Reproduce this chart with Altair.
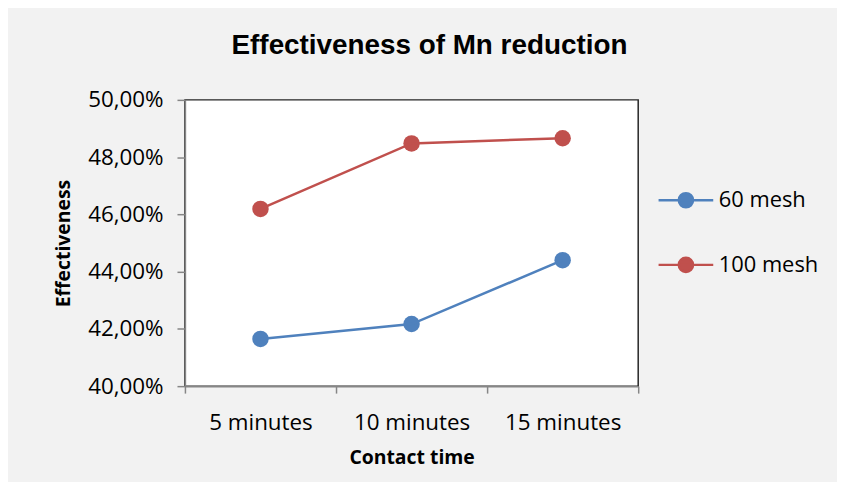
import altair as alt
import pandas as pd

categories = ["5 minutes", "10 minutes", "15 minutes"]
series_names = ["60 mesh", "100 mesh"]
mesh60 = [0.4165, 0.4217, 0.4440]
mesh100 = [0.4619, 0.4848, 0.4866]
y_ticks = [0.40, 0.42, 0.44, 0.46, 0.48, 0.50]
colors = ["#4F81BD", "#C0504D"]

rows = []
for name, vals in zip(series_names, [mesh60, mesh100]):
    for c, v in zip(categories, vals):
        rows.append({"time": c, "series": name, "value": v})
df = pd.DataFrame(rows)

legend_symbol = "M-1,0L1,0M-0.26,0A0.26,0.26,0,1,0,0.26,0A0.26,0.26,0,1,0,-0.26,0Z"

x = alt.X(
    "time:N",
    sort=categories,
    scale=alt.Scale(type="band", paddingInner=0, paddingOuter=0),
    axis=alt.Axis(
        title="Contact time",
        labelAngle=0,
        tickBand="extent",
        tickSize=7,
        labelPadding=19,
        labelFontSize=22.5,
        titleFontSize=19.5,
        titlePadding=14,
    ),
)
y = alt.Y(
    "value:Q",
    scale=alt.Scale(domain=[0.40, 0.50], nice=False, zero=False),
    axis=alt.Axis(
        values=y_ticks,
        labelExpr="replace(format(datum.value, '.2%'), '.', ',')",
        title="Effectiveness",
        grid=False,
        tickSize=8,
        labelPadding=14,
        labelFontSize=22.5,
        titleFontSize=19.5,
        titlePadding=14,
    ),
)
color = alt.Color(
    "series:N",
    sort=series_names,
    scale=alt.Scale(domain=series_names, range=colors),
    legend=alt.Legend(
        title=None,
        orient="none",
        legendX=475,
        legendY=72,
        symbolType=legend_symbol,
        symbolSize=3025,
        symbolStrokeWidth=2.5,
        rowPadding=23,
        labelFont="Open Sans",
        labelFontSize=22,
        labelColor="black",
        padding=0,
        labelOffset=4,
    ),
)

base = alt.Chart(df).encode(x=x, y=y, color=color)
points = base.mark_point(filled=True, size=275, opacity=1)
lines = base.mark_line(strokeWidth=2.5)

chart = (
    alt.layer(points, lines)
    .properties(
        width=456,
        height=288,
        autosize="none",
        padding={"left": 178, "top": 91, "right": 200, "bottom": 95},
        background="#f2f2f2",
        title=alt.Title(
            "Effectiveness of Mn reduction",
            font="Liberation Sans",
            fontSize=28,
            fontWeight="bold",
            color="black",
            anchor="middle",
            dx=18,
            offset=29,
        ),
    )
    .configure_view(fill="white", stroke="#262626", strokeWidth=1.5)
    .configure_axis(
        domainColor="#868686",
        domainWidth=1.5,
        tickColor="#868686",
        tickWidth=1.5,
        labelColor="black",
        labelFont="Open Sans",
        titleFont="Open Sans",
        titleFontWeight="bold",
        titleColor="black",
    )
)

chart.save("out.html", embed_options={"renderer": "svg", "actions": False})
